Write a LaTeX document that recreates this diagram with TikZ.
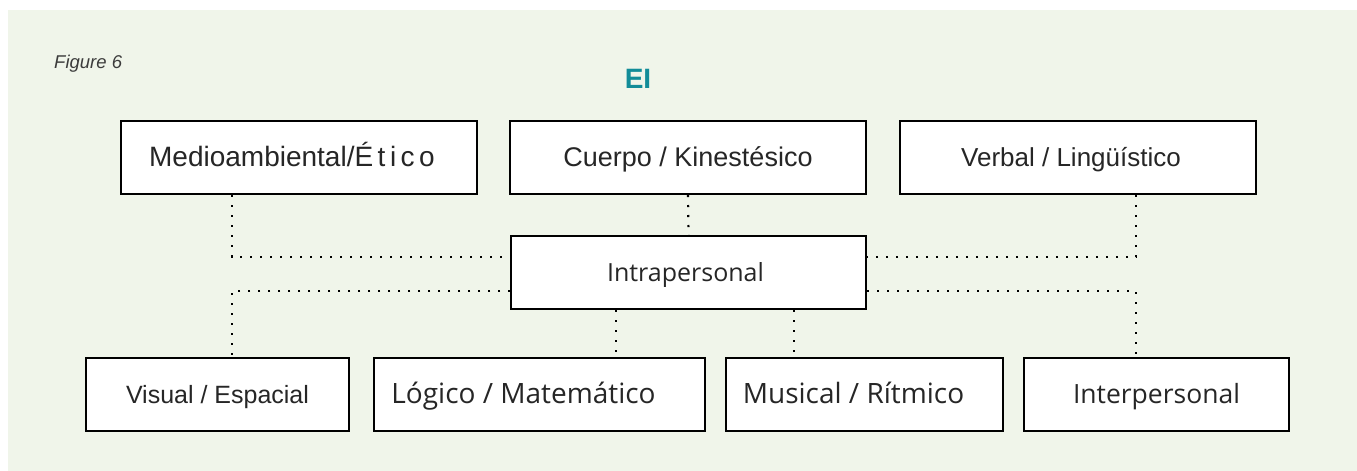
\documentclass[tikz,border=0pt]{standalone}
\usepackage{fontspec}
\setmainfont{Liberation Sans}
\newfontfamily\osans{Open Sans}
\definecolor{bgc}{RGB}{240,245,234}
\definecolor{tealEI}{RGB}{18,140,152}
\definecolor{txt}{RGB}{38,38,38}
\definecolor{figc}{RGB}{60,60,60}
\newcommand{\fsz}[1]{\fontsize{#1}{#1}\selectfont}
\begin{document}
\begin{tikzpicture}[x=1pt,y=-1pt,
  box/.style={draw=black, line width=2.4pt, fill=white, inner sep=0pt,
    minimum height=72.6pt, text height=18pt, text depth=1pt, text=txt},
  conn/.style={line width=2.2pt, dash pattern=on 2.2pt off 7.8pt, line cap=butt, black}]
\fill[white] (0,0) rectangle (1357,471);
\fill[bgc] (8,10) rectangle (1357,471);
\useasboundingbox (0,0) rectangle (1357,471);

\node[anchor=base west, inner sep=0pt, font=\itshape\fsz{18.5}, text=figc] (fig) at (54,68) {Figure 6};
\node[anchor=base, inner sep=0pt, font=\bfseries\fsz{28}, text=tealEI] (title) at (638,88) {EI};

% top row
\node[box, minimum width=355.6pt, font=\fsz{28}] (medio) at (299,157.5)
  {Medioambiental/É\kern4.5pt t\kern4.5pt i\kern4.5pt c\kern4.5pt o\hspace*{14pt}};
\node[box, minimum width=355.6pt, font=\fsz{27}] (cuerpo) at (688,157.5) {Cuerpo / Kinestésico};
\node[box, minimum width=355.6pt, font=\fsz{26}] (verbal) at (1078,157.5) {Verbal / Lingüístico\hspace*{14pt}};
% middle
\node[box, minimum width=354.6pt, font=\osans\fsz{25}] (intra) at (688.5,272.5) {Intrapersonal\hspace*{6pt}};
% bottom row
\node[box, minimum width=262.6pt, font=\fsz{25}] (visual) at (217.5,394.5) {Visual / Espacial};
\node[box, minimum width=330.6pt, font=\osans\fsz{28}] (logico) at (539.5,394.5) {Lógico / Matemático\hspace*{32pt}};
\node[box, minimum width=276.6pt, font=\osans\fsz{28}] (musical) at (864.5,394.5) {Musical / Rítmico\hspace*{22pt}};
\node[box, minimum width=264.6pt, font=\osans\fsz{26.5}] (inter) at (1156.5,394.5) {Interpersonal};

% guide coordinates
\coordinate (yU) at (0,257);
\coordinate (yD) at (0,291);
\coordinate (xL) at (232,0);
\coordinate (xR) at (1136,0);
\coordinate (xA) at (616,0);
\coordinate (xB) at (794,0);

\draw[conn] (medio.south -| xL) |- (intra.west |- yU);
\draw[conn] (verbal.south -| xR) |- (intra.east |- yU);
\draw[conn] (cuerpo.south) -- (intra.north);
\draw[conn] (intra.west |- yD) -| (visual.north -| xL);
\draw[conn] (intra.east |- yD) -| (inter.north -| xR);
\draw[conn] (intra.south -| xA) -- (logico.north -| xA);
\draw[conn] (intra.south -| xB) -- (musical.north -| xB);
\end{tikzpicture}
\end{document}
